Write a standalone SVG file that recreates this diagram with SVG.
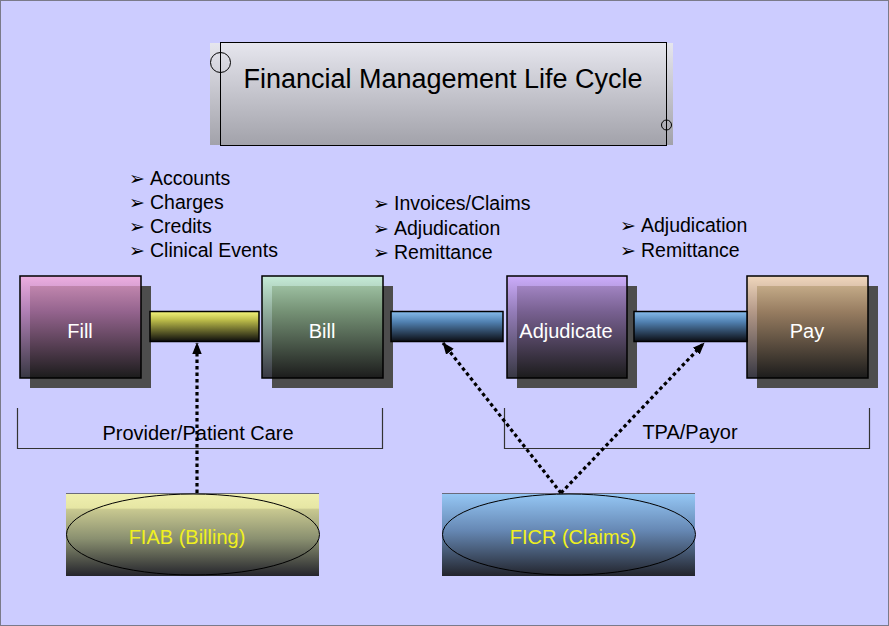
<svg xmlns="http://www.w3.org/2000/svg" width="889" height="626" viewBox="0 0 889 626">
<defs>
<style>
.lbl{font-family:"Liberation Sans",Arial,sans-serif;font-size:20px;fill:#000}
.ttl{font-family:"Liberation Sans",Arial,sans-serif;font-size:27px;fill:#000;text-anchor:middle}
.box{font-family:"Liberation Sans",Arial,sans-serif;font-size:20px;fill:#fff;text-anchor:middle}
.blt{font-family:"Liberation Sans",Arial,sans-serif;font-size:19.5px;fill:#000}
.sym{font-family:"DejaVu Sans",sans-serif;font-size:19px}
.yel{font-family:"Liberation Sans",Arial,sans-serif;font-size:20px;fill:#f0f020;text-anchor:middle}
.shadow{fill:#4d4d4d}
.proc{stroke:#000;stroke-width:1.5;fill-opacity:0.78}
.bar{stroke:#000;stroke-width:1.5}
.brk{fill:none;stroke:#333;stroke-width:1.2}
.dot{fill:none;stroke:#000;stroke-width:3.2;stroke-dasharray:3.5 3}
</style>
<linearGradient id="gTitle" x1="0" y1="0" x2="0" y2="1"><stop offset="0" stop-color="#e6e6ee"/><stop offset="1" stop-color="#a2a2aa"/></linearGradient>
<linearGradient id="gFill" x1="0" y1="0" x2="0" y2="1"><stop offset="0" stop-color="#f6a6d8"/><stop offset="0.35" stop-color="#a86aa0"/><stop offset="1" stop-color="#0e0e0e"/></linearGradient>
<linearGradient id="gBill" x1="0" y1="0" x2="0" y2="1"><stop offset="0" stop-color="#c4f4cc"/><stop offset="0.35" stop-color="#80a480"/><stop offset="1" stop-color="#0e0e0e"/></linearGradient>
<linearGradient id="gAdj" x1="0" y1="0" x2="0" y2="1"><stop offset="0" stop-color="#cca4fa"/><stop offset="0.35" stop-color="#8466a4"/><stop offset="1" stop-color="#0e0e0e"/></linearGradient>
<linearGradient id="gPay" x1="0" y1="0" x2="0" y2="1"><stop offset="0" stop-color="#fadaaa"/><stop offset="0.35" stop-color="#ac8a66"/><stop offset="1" stop-color="#0e0e0e"/></linearGradient>
<linearGradient id="gYel" x1="0" y1="0" x2="0" y2="1"><stop offset="0" stop-color="#f4f47c"/><stop offset="0.3" stop-color="#b8b848"/><stop offset="1" stop-color="#0c0c0c"/></linearGradient>
<linearGradient id="gBlue" x1="0" y1="0" x2="0" y2="1"><stop offset="0" stop-color="#88bcec"/><stop offset="0.35" stop-color="#5080b0"/><stop offset="1" stop-color="#0c0e14"/></linearGradient>
<linearGradient id="gFiab" x1="0" y1="0" x2="0" y2="1"><stop offset="0" stop-color="#f0f0b0"/><stop offset="0.18" stop-color="#e6e6a4"/><stop offset="0.2" stop-color="#c8c890"/><stop offset="0.55" stop-color="#8a9070"/><stop offset="1" stop-color="#24242c"/></linearGradient>
<linearGradient id="gFicr" x1="0" y1="0" x2="0" y2="1"><stop offset="0" stop-color="#96c8f6"/><stop offset="0.45" stop-color="#6688b4"/><stop offset="1" stop-color="#22242c"/></linearGradient>
<marker id="arr" markerUnits="userSpaceOnUse" markerWidth="12" markerHeight="16" refX="14" refY="6" viewBox="0 0 15 12" orient="auto"><path d="M0,0 L15,6 L0,12 Z" fill="#000"/></marker>
</defs>
<rect x="0.5" y="0.5" width="888" height="625" fill="#ccccff" stroke="#7a7a8a"/>

<g id="title">
<rect x="210" y="43" width="463" height="102" fill="url(#gTitle)"/>
<rect x="220.5" y="42.5" width="446" height="103" fill="none" stroke="#000" stroke-width="1"/>
<circle cx="220.5" cy="62.5" r="10" fill="none" stroke="#000"/>
<circle cx="666.5" cy="125" r="5" fill="none" stroke="#000"/>
<text class="ttl" x="443" y="88">Financial Management Life Cycle</text>
</g>

<g id="notes-bill">
<text class="blt" y="185"><tspan class="sym" x="129">➢</tspan><tspan x="150">Accounts</tspan></text>
<text class="blt" y="209"><tspan class="sym" x="129">➢</tspan><tspan x="150">Charges</tspan></text>
<text class="blt" y="233"><tspan class="sym" x="129">➢</tspan><tspan x="150">Credits</tspan></text>
<text class="blt" y="257"><tspan class="sym" x="129">➢</tspan><tspan x="150">Clinical Events</tspan></text>
</g>
<g id="notes-adjudicate">
<text class="blt" y="210"><tspan class="sym" x="373">➢</tspan><tspan x="394">Invoices/Claims</tspan></text>
<text class="blt" y="234.5"><tspan class="sym" x="373">➢</tspan><tspan x="394">Adjudication</tspan></text>
<text class="blt" y="259"><tspan class="sym" x="373">➢</tspan><tspan x="394">Remittance</tspan></text>
</g>
<g id="notes-pay">
<text class="blt" y="232"><tspan class="sym" x="620">➢</tspan><tspan x="641">Adjudication</tspan></text>
<text class="blt" y="257"><tspan class="sym" x="620">➢</tspan><tspan x="641">Remittance</tspan></text>
</g>

<g id="fill">
<rect class="shadow" x="30" y="286" width="121" height="102"/>
<rect class="proc" x="20" y="276" width="121" height="102" fill="url(#gFill)"/>
<text class="box" x="80" y="338">Fill</text>
</g>
<g id="bill">
<rect class="shadow" x="272" y="286" width="121" height="102"/>
<rect class="proc" x="262" y="276" width="121" height="102" fill="url(#gBill)"/>
<text class="box" x="322" y="338">Bill</text>
</g>
<g id="adjudicate">
<rect class="shadow" x="517" y="286" width="120" height="102"/>
<rect class="proc" x="507" y="276" width="120" height="102" fill="url(#gAdj)"/>
<text class="box" x="566" y="338">Adjudicate</text>
</g>
<g id="pay">
<rect class="shadow" x="757" y="286" width="121" height="102"/>
<rect class="proc" x="747" y="276" width="121" height="102" fill="url(#gPay)"/>
<text class="box" x="807" y="338">Pay</text>
</g>

<g id="link-fill-bill"><rect class="bar" x="150" y="311.5" width="109" height="30" fill="url(#gYel)"/></g>
<g id="link-bill-adjudicate"><rect class="bar" x="391" y="311.5" width="112" height="30" fill="url(#gBlue)"/></g>
<g id="link-adjudicate-pay"><rect class="bar" x="634" y="311.5" width="113" height="30" fill="url(#gBlue)"/></g>

<g id="provider-care">
<path class="brk" d="M17.5,408 V448.5 H382.5 V408"/>
<text class="lbl" x="198" y="440" text-anchor="middle">Provider/Patient Care</text>
</g>
<g id="tpa-payor">
<path class="brk" d="M504.5,408 V448.5 H869.5 V408"/>
<text class="lbl" x="690" y="439" text-anchor="middle">TPA/Payor</text>
</g>

<g id="fiab">
<rect x="66" y="493" width="253" height="83" fill="url(#gFiab)"/>
<line x1="66" y1="493.5" x2="319" y2="493.5" stroke="#6a6a7a"/>
<ellipse cx="193" cy="534.5" rx="126.5" ry="40.5" fill="none" stroke="#000"/>
<text class="yel" x="187" y="544">FIAB (Billing)</text>
</g>
<g id="ficr">
<rect x="442" y="493" width="253" height="83" fill="url(#gFicr)"/>
<line x1="442" y1="493.5" x2="695" y2="493.5" stroke="#6a6a7a"/>
<ellipse cx="569" cy="534.5" rx="126.5" ry="40.5" fill="none" stroke="#000"/>
<text class="yel" x="573" y="544">FICR (Claims)</text>
</g>

<g id="connectors">
<path class="dot" d="M197,493 V343" marker-end="url(#arr)"/>
<path class="dot" d="M561,493 L443,343" marker-end="url(#arr)"/>
<path class="dot" d="M561,493 L704,343" marker-end="url(#arr)"/>
</g>
</svg>
